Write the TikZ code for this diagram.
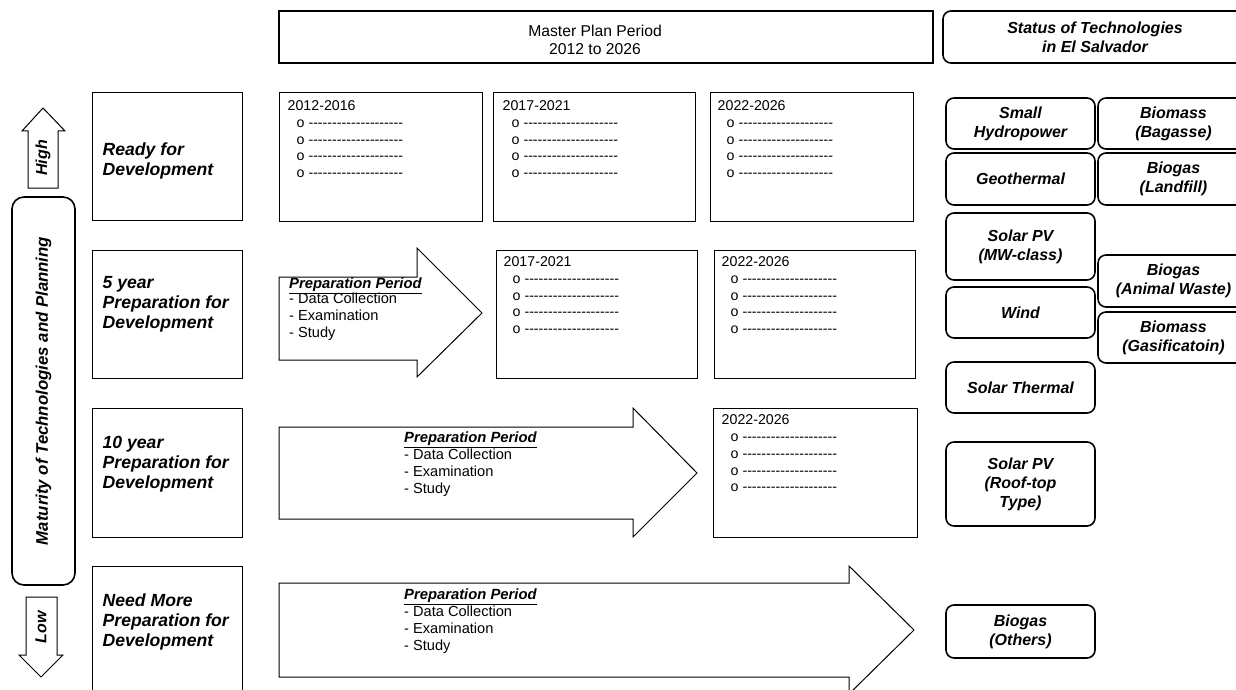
\documentclass[tikz,border=0pt]{standalone}
\usepackage{fontspec}
\setmainfont{Liberation Sans}[Ligatures=TeXOff]
\usetikzlibrary{calc}

\newcommand{\techfont}{\fontsize{16}{19}\selectfont\bfseries\itshape}
\newcommand{\rowfont}{\fontsize{17.6}{20}\selectfont\bfseries\itshape}
\newcommand{\yearfont}{\fontsize{14.2}{16.7}\selectfont}
\newcommand{\prepfont}{\fontsize{14.6}{17}\selectfont}
\newcommand{\prephead}{{\fontsize{14.8}{17}\selectfont\bfseries\itshape\underline{Preparation Period}}}
\newcommand{\dashitem}{\hspace*{9pt}o --------------------}
\newcommand{\yearlist}[1]{#1\\[0.5pt]\dashitem\\\dashitem\\\dashitem\\\dashitem}

\begin{document}
\begin{tikzpicture}[x=1pt, y=-1pt,
	framebox/.style={draw, line width=1pt, inner sep=0pt},
	techbox/.style={draw, line width=1.6pt, rounded corners=8pt, minimum width=149, inner sep=0pt, align=center, font=\techfont},
	rowtext/.style={anchor=west, align=left, inner sep=0pt, font=\rowfont},
	yeartext/.style={anchor=north west, align=left, inner sep=0pt, font=\yearfont},
	preptext/.style={anchor=north west, align=left, inner sep=0pt, font=\prepfont},
	blockarrow/.style={draw, line width=1pt, line join=miter}]
	\useasboundingbox (0,0) rectangle (1236,690);
	\clip (0,0) rectangle (1236,690);

	\node[framebox, line width=1.6pt, minimum width=654, minimum height=52] (plan) at (606,37) {};
	\node[align=center, font=\fontsize{15.7}{17.5}\selectfont] (plantext) at ($(plan.center)+(-11,3)$) {Master Plan Period\\2012 to 2026};
	\node[techbox, minimum width=304, minimum height=52] (status) at (1095,37) {Status of Technologies\\in El Salvador};

	\draw[line width=1pt] (28,188) -- (28,131) -- (22,131) -- (43,108) -- (65,131) -- (58,131) -- (58,188) -- cycle;
	\node[rotate=90, font=\techfont] (high) at (43,158) {High};
	\node[draw, line width=1.6pt, rounded corners=12pt, rotate=90, minimum width=388, minimum height=63, font=\fontsize{16.8}{19}\selectfont\bfseries\itshape] (maturity) at (43.5,391) {Maturity of Technologies and Planning};
	\draw[line width=1pt] (26,597) -- (57,597) -- (57,655) -- (63,655) -- (41,677) -- (19,655) -- (26,655) -- cycle;
	\node[rotate=90, font=\techfont] (low) at (41,627) {Low};

	\node[framebox, minimum width=150, minimum height=127] (rowbox1) at (167,156.5) {};
	\node[framebox, minimum width=150, minimum height=128] (rowbox2) at (167,314) {};
	\node[framebox, minimum width=150, minimum height=129] (rowbox3) at (167,472.5) {};
	\node[framebox, minimum width=150, minimum height=134] (rowbox4) at (167,633) {};
	\node[rowtext] (rowlabel1) at ($(rowbox1.west)+(11,4.5)$) {Ready for\\Development};
	\node[rowtext] (rowlabel2) at ($(rowbox2.west)+(11,-9.5)$) {5 year\\Preparation for\\Development};
	\node[rowtext] (rowlabel3) at ($(rowbox3.west)+(11,-8.5)$) {10 year\\Preparation for\\Development};
	\node[rowtext] (rowlabel4) at ($(rowbox4.west)+(11,-11.5)$) {Need More\\Preparation for\\Development};

	\node[framebox, minimum width=203, minimum height=128] (yearbox1) at (380.5,157) {};
	\node[framebox, minimum width=202, minimum height=128] (yearbox2) at (594,157) {};
	\node[framebox, minimum width=203, minimum height=128] (yearbox3) at (811.5,157) {};
	\node[yeartext] at ($(yearbox1.north west)+(9,7.5)$) {\yearlist{2012-2016}};
	\node[yeartext] at ($(yearbox2.north west)+(10,7.5)$) {\yearlist{2017-2021}};
	\node[yeartext] at ($(yearbox3.north west)+(8,7.5)$) {\yearlist{2022-2026}};

	\draw[blockarrow] (279,277) -- (417,277) -- (417,248) -- (482,313) -- (417,377) -- (417,360) -- (279,360) -- cycle;
	\node[preptext] (prep1) at (289,277.5) {\prephead\\[-2pt]- Data Collection\\- Examination\\- Study};
	\node[framebox, minimum width=201, minimum height=128] (yearbox4) at (596.5,314) {};
	\node[framebox, minimum width=201, minimum height=128] (yearbox5) at (814.5,314) {};
	\node[yeartext] at ($(yearbox4.north west)+(8,6.5)$) {\yearlist{2017-2021}};
	\node[yeartext] at ($(yearbox5.north west)+(8,6.5)$) {\yearlist{2022-2026}};

	\draw[blockarrow] (279,427) -- (633,427) -- (633,408) -- (697,473) -- (633,537) -- (633,519) -- (279,519) -- cycle;
	\node[preptext] (prep2) at (404,432) {\prephead\\- Data Collection\\- Examination\\- Study};
	\node[framebox, minimum width=204, minimum height=129] (yearbox6) at (815,472.5) {};
	\node[yeartext] at ($(yearbox6.north west)+(9,7)$) {\yearlist{2022-2026}};

	\draw[blockarrow] (279,583) -- (849,583) -- (849,566) -- (914,630) -- (849,694) -- (849,677) -- (279,677) -- cycle;
	\node[preptext] (prep3) at (404,589) {\prephead\\- Data Collection\\- Examination\\- Study};

	\node[techbox, minimum height=51] (hydro) at (1020.5,123.5) {Small\\Hydropower};
	\node[techbox, minimum height=51, minimum width=151] (bagasse) at (1173.5,123.5) {Biomass\\(Bagasse)};
	\node[techbox, minimum height=52] (geothermal) at (1020.5,179) {Geothermal};
	\node[techbox, minimum height=52, minimum width=151] (landfill) at (1173.5,179) {Biogas\\(Landfill)};
	\node[techbox, minimum height=67] (solarmw) at (1020.5,246.5) {Solar PV\\(MW-class)};
	\node[techbox, minimum height=52, minimum width=151] (animalwaste) at (1173.5,281) {Biogas\\(Animal Waste)};
	\node[techbox, minimum height=51] (wind) at (1020.5,312.5) {Wind};
	\node[techbox, minimum height=51, minimum width=151] (gasification) at (1173.5,337.5) {Biomass\\(Gasificatoin)};
	\node[techbox, minimum height=51] (solarthermal) at (1020.5,387.5) {Solar Thermal};
	\node[techbox, minimum height=84] (rooftop) at (1020.5,484) {Solar PV\\(Roof-top\\Type)};
	\node[techbox, minimum height=53] (others) at (1020.5,631.5) {Biogas\\(Others)};
\end{tikzpicture}
\end{document}
